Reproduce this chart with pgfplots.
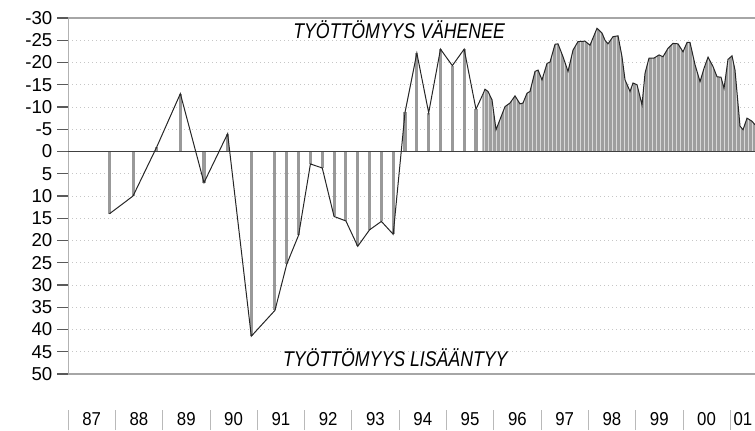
\documentclass[border=0pt]{standalone}
\usepackage{fontspec}
\setmainfont{Liberation Sans}
\newfontfamily\condfont{Liberation Sans}[FakeStretch=0.83]
\newfontfamily\xfont{Liberation Sans}[FakeStretch=0.9]
\usepackage{pgfplots}
\usepackage{pgfplotstable}
\pgfplotsset{compat=1.18}
\usetikzlibrary{patterns}

\pgfplotstableread{
t v
0.875 14
1.375 10
1.875 -1
2.375 -13
2.875 7
3.375 -4
3.875 41.5
4.375 35.7
4.625 25.3
4.875 18.8
5.125 2.8
5.375 3.7
5.625 14.6
5.875 15.6
6.125 21.3
6.375 17.6
6.625 15.7
6.875 18.6
7.125 -8.8
7.375 -22.1
7.625 -8.7
7.875 -23.0
8.125 -19.3
8.375 -23.0
8.625 -9.5
}\spikes

\pgfplotstableread{
t v
8.760 -12.6
8.816 -14.0
8.879 -13.5
8.964 -11.6
9.049 -4.9
9.133 -7.2
9.239 -10.1
9.345 -10.9
9.450 -12.5
9.556 -10.7
9.619 -10.9
9.704 -13.1
9.767 -13.5
9.873 -18.0
9.937 -18.3
10.021 -16.1
10.127 -19.8
10.190 -20.1
10.296 -24.1
10.359 -24.2
10.465 -21.3
10.571 -18.0
10.677 -22.8
10.782 -24.7
10.930 -24.8
11.036 -23.9
11.184 -27.7
11.290 -26.6
11.353 -25.0
11.416 -24.2
11.522 -25.8
11.628 -26.0
11.712 -21.3
11.776 -16.1
11.882 -13.5
11.945 -15.4
12.030 -15.0
12.135 -10.5
12.199 -17.6
12.283 -21.0
12.389 -21.0
12.495 -21.7
12.579 -21.3
12.685 -23.2
12.791 -24.3
12.896 -24.2
13.002 -22.4
13.087 -24.5
13.150 -24.5
13.256 -19.5
13.362 -15.7
13.446 -18.7
13.531 -21.2
13.636 -19.1
13.721 -16.8
13.805 -16.7
13.869 -14.2
13.953 -20.7
14.038 -21.5
14.101 -18.3
14.207 -5.7
14.271 -4.9
14.355 -7.5
14.461 -6.8
14.524 -6.0
}\area

\begin{document}
\begin{tikzpicture}
\useasboundingbox (0,0) rectangle (566.25pt,322.5pt);
\begin{axis}[
  at={(51pt,42pt)}, anchor=south west,
  scale only axis, width=515.25pt, height=267pt,
  xmin=0, xmax=14.524, ymin=-30, ymax=50, y dir=reverse,
  clip=false,
  axis line style={draw=none},
  ytick={-30,-25,...,50},
  ytick pos=left,
  tick align=outside,
  major tick length=8.25pt,
  ytick style={gray!70!black, line width=0.8pt},
  ymajorgrids,
  major grid style={gray!45, line width=0.5pt, dash pattern=on 0.75pt off 2.25pt},
  xtick={0.5,1.5,2.5,3.5,4.5,5.5,6.5,7.5,8.5,9.5,10.5,11.5,12.5,13.5,14.27},
  xticklabels={87,88,89,90,91,92,93,94,95,96,97,98,99,00,01},
  xtick style={draw=none},
  yticklabel style={anchor=east, font=\fontsize{14}{15}\selectfont},
  xticklabel style={anchor=base, inner ysep=0pt, yshift=-30.5pt, font=\xfont\fontsize{14}{15}\selectfont},
  /pgf/number format/assume math mode=true,
]
\addplot[fill=black!38, draw=none] table[x=t,y=v] {\area} \closedcycle;
\addplot[pattern=vertical lines, pattern color=white!85!black, draw=none] table[x=t,y=v] {\area} \closedcycle;
\addplot[ycomb, black!40, line width=2.3pt] table[x=t,y=v] {\spikes};
\draw[gray!60, line width=0.6pt] (rel axis cs:0,0) -- (rel axis cs:0,1);
\draw[gray!70, line width=0.8pt] (rel axis cs:0,0) -- (rel axis cs:1,0);
\draw[gray!70, line width=0.8pt] (rel axis cs:0,1) -- (rel axis cs:1,1);
\draw[black!75, line width=0.8pt] (axis cs:0,0) -- (axis cs:14.524,0);
\addplot[black!85, line width=0.75pt] table[x=t,y=v] {\spikes};
\addplot[black!85, line width=0.75pt] table[x=t,y=v] {\area};
\draw[black!85, line width=0.75pt] (axis cs:8.625,-9.5) -- (axis cs:8.76,-12.6);
\node[anchor=base, font=\condfont\itshape\fontsize{16}{16}\selectfont] at (axis cs:7.0,-25.4) {TYÖTTÖMYYS VÄHENEE};
\node[anchor=base, font=\condfont\itshape\fontsize{16}{16}\selectfont] at (axis cs:6.92,48.4) {TYÖTTÖMYYS LISÄÄNTYY};
\end{axis}
\foreach \i in {0,...,14}{
  \draw[gray!55, line width=0.6pt] (51pt+\i*35.475pt,0pt) -- ++(0,15pt);
}
\end{tikzpicture}
\end{document}
